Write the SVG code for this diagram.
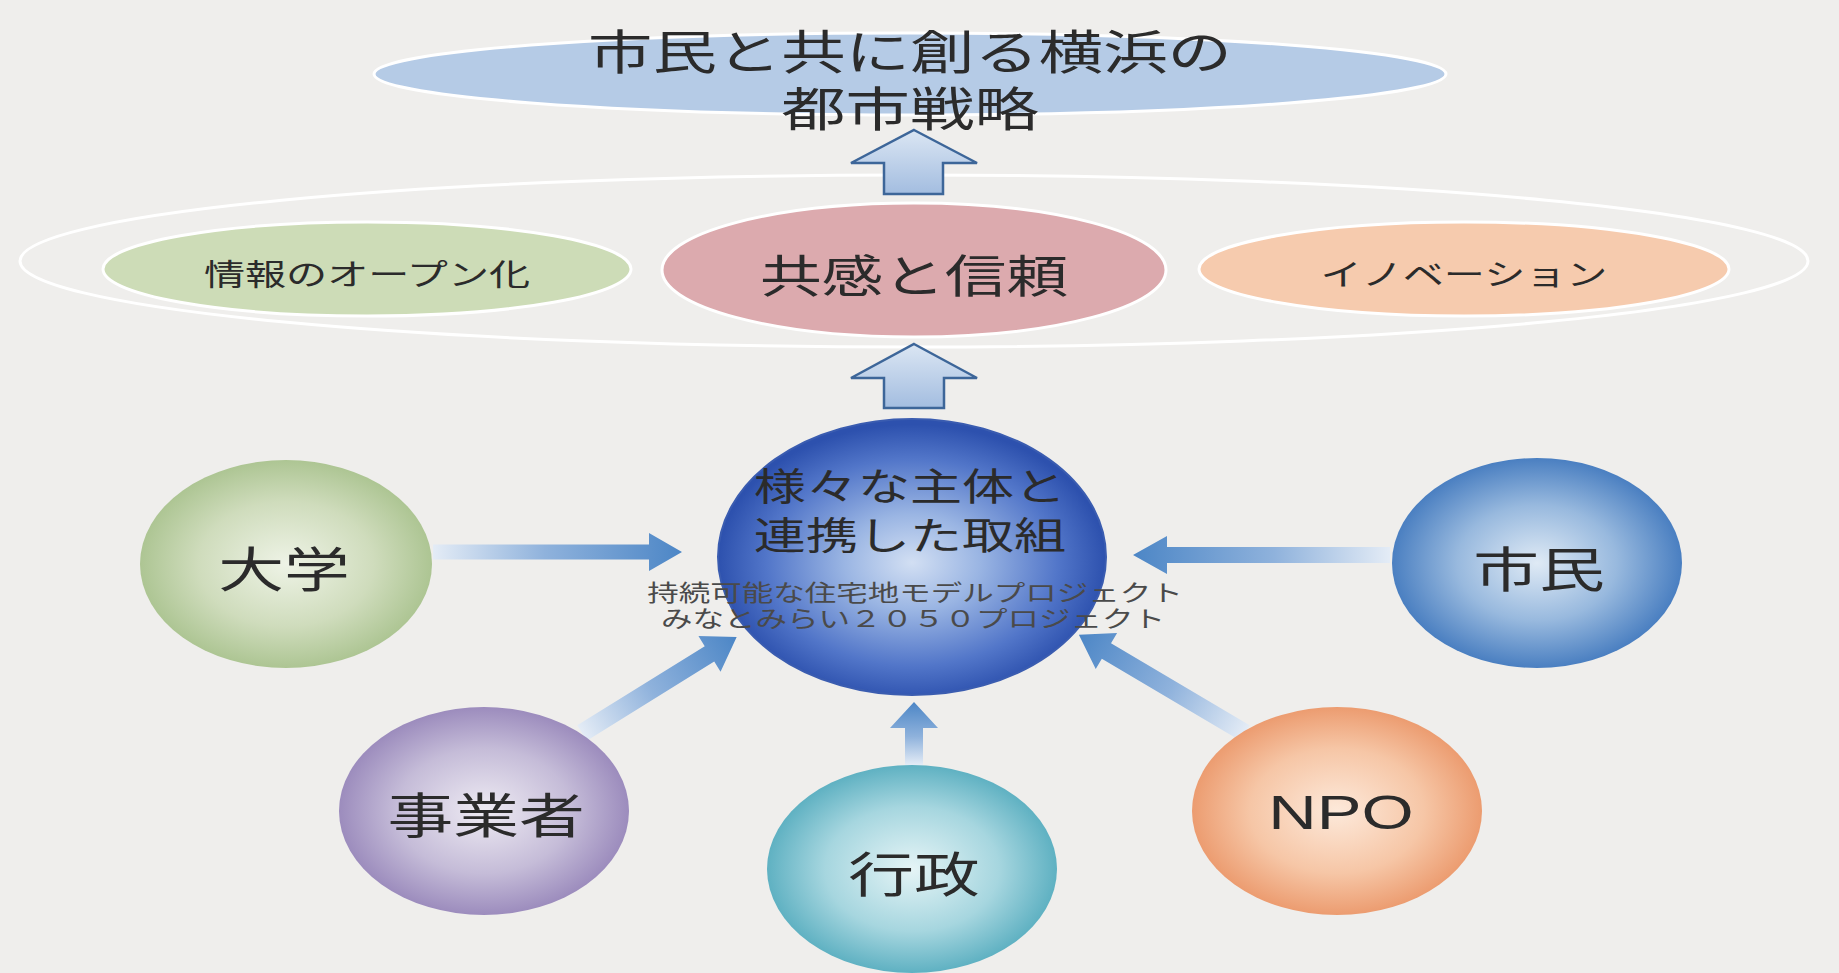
<svg xmlns="http://www.w3.org/2000/svg" width="1839" height="973" viewBox="0 0 1839 973">
<defs>
<style>
.jp{font-family:"Noto Sans CJK JP","Noto Sans",sans-serif;fill:#2b2b2b;text-anchor:middle;dominant-baseline:central}
.lat{font-family:"Liberation Sans","DejaVu Sans",sans-serif;fill:#2b2b2b;text-anchor:middle;dominant-baseline:central}
.oval{stroke:#ffffff;stroke-width:3}
.up{fill:url(#gUp);stroke:#3d6699;stroke-width:2.5;stroke-linejoin:miter}
.conn{fill:url(#gConn)}
</style>
<linearGradient id="gUp" x1="0" y1="0" x2="0" y2="1">
<stop offset="0" stop-color="#dbe6f3"/><stop offset="1" stop-color="#a3bde0"/>
</linearGradient>
<linearGradient id="gConn" x1="0" y1="0" x2="1" y2="0">
<stop offset="0" stop-color="#e4ecf6"/><stop offset="0.45" stop-color="#8fb2dc"/><stop offset="1" stop-color="#4c86c6"/>
</linearGradient>
<radialGradient id="gCenter" cx="0.5" cy="0.52" r="0.5">
<stop offset="0" stop-color="#d2dff3"/><stop offset="0.35" stop-color="#9ab5e3"/><stop offset="0.75" stop-color="#5276c9"/><stop offset="1" stop-color="#2d51ae"/>
</radialGradient>
<radialGradient id="gDaigaku" cx="0.5" cy="0.5" r="0.5">
<stop offset="0" stop-color="#eef3e6"/><stop offset="0.6" stop-color="#cfdcbc"/><stop offset="1" stop-color="#adc593"/>
</radialGradient>
<radialGradient id="gShimin" cx="0.5" cy="0.5" r="0.5">
<stop offset="0" stop-color="#dfeaf5"/><stop offset="0.55" stop-color="#98b9de"/><stop offset="1" stop-color="#4a7fc1"/>
</radialGradient>
<radialGradient id="gJigyo" cx="0.5" cy="0.5" r="0.5">
<stop offset="0" stop-color="#eeebf3"/><stop offset="0.6" stop-color="#c5bcd8"/><stop offset="1" stop-color="#9c8cbd"/>
</radialGradient>
<radialGradient id="gGyosei" cx="0.5" cy="0.5" r="0.5">
<stop offset="0" stop-color="#e5f4f6"/><stop offset="0.6" stop-color="#a6d6df"/><stop offset="1" stop-color="#5fb1c2"/>
</radialGradient>
<radialGradient id="gNpo" cx="0.5" cy="0.5" r="0.5">
<stop offset="0" stop-color="#fde9da"/><stop offset="0.6" stop-color="#f6c6a6"/><stop offset="1" stop-color="#ec9c70"/>
</radialGradient>
</defs>
<rect x="0" y="0" width="1839" height="973" fill="#efeeec"/>

<g id="outer-ring">
<ellipse cx="914" cy="261" rx="894" ry="86" fill="none" stroke="#ffffff" stroke-width="3"/>
</g>

<g id="goal">
<ellipse class="oval" cx="910" cy="74" rx="536" ry="41" fill="#b5cbe6"/>
<text class="jp" transform="translate(910,49) scale(1.37,1)" font-size="47">市民と共に創る横浜の</text>
<text class="jp" transform="translate(910,106) scale(1.37,1)" font-size="47">都市戦略</text>
</g>

<g id="openness">
<ellipse class="oval" cx="367" cy="269" rx="264" ry="47" fill="#cddcb7"/>
<text class="jp" transform="translate(367,272) scale(1.37,1)" font-size="30">情報のオープン化</text>
</g>

<g id="trust">
<ellipse class="oval" cx="914" cy="270" rx="252" ry="67" fill="#dcaaae"/>
<text class="jp" transform="translate(914,273) scale(1.37,1)" font-size="45">共感と信頼</text>
</g>

<g id="innovation">
<ellipse class="oval" cx="1464" cy="269" rx="265" ry="47" fill="#f6cbae"/>
<text class="jp" transform="translate(1464,272) scale(1.37,1)" font-size="30">イノベーション</text>
</g>

<g id="up-arrows">
<polygon class="up" points="914,130 977,163 943,163 943,194 884,194 884,163 851,163"/>
<polygon class="up" points="914,344 977,378 944,378 944,408 884,408 884,378 851,378"/>
</g>

<g id="connectors">
<polygon class="conn" transform="translate(433,552)" points="0,-7.5 216,-7.5 216,-19 249,0 216,19 216,7.5 0,7.5"/>
<polygon class="conn" transform="translate(1390,555) rotate(180)" points="0,-8 223,-8 223,-19 257,0 223,19 223,8 0,8"/>
<polygon class="conn" transform="translate(582,733) rotate(-31.8)" points="0,-9 150,-9 150,-21 182,0 150,21 150,9 0,9"/>
<polygon class="conn" transform="translate(1245,733) rotate(-149.4)" points="0,-9 161,-9 161,-21 193,0 161,21 161,9 0,9"/>
<polygon class="conn" transform="translate(914,765) rotate(-90)" points="0,-9 37,-9 37,-24 63,0 37,24 37,9 0,9"/>
</g>

<g id="center">
<ellipse cx="912" cy="557" rx="194" ry="138" fill="url(#gCenter)" stroke="#3a5cb0" stroke-width="2"/>
<text class="jp" transform="translate(910,483) scale(1.37,1)" font-size="38">様々な主体と</text>
<text class="jp" transform="translate(910,532) scale(1.37,1)" font-size="38">連携した取組</text>
<text class="jp" transform="translate(915,591) scale(1.37,1)" font-size="23" style="fill:#4a4a4a">持続可能な住宅地モデルプロジェクト</text>
<text class="jp" transform="translate(913,617) scale(1.37,1)" font-size="23" style="fill:#4a4a4a">みなとみらい２０５０プロジェクト</text>
</g>

<g id="daigaku">
<ellipse cx="286" cy="564" rx="146" ry="104" fill="url(#gDaigaku)"/>
<text class="jp" transform="translate(284,566) scale(1.37,1)" font-size="48">大学</text>
</g>

<g id="shimin">
<ellipse cx="1537" cy="563" rx="145" ry="105" fill="url(#gShimin)"/>
<text class="jp" transform="translate(1539,566) scale(1.37,1)" font-size="48">市民</text>
</g>

<g id="jigyosha">
<ellipse cx="484" cy="811" rx="145" ry="104" fill="url(#gJigyo)"/>
<text class="jp" transform="translate(486,812) scale(1.37,1)" font-size="48">事業者</text>
</g>

<g id="gyosei">
<ellipse cx="912" cy="869" rx="145" ry="104" fill="url(#gGyosei)"/>
<text class="jp" transform="translate(914,871) scale(1.37,1)" font-size="48">行政</text>
</g>

<g id="npo">
<ellipse cx="1337" cy="811" rx="145" ry="104" fill="url(#gNpo)"/>
<text class="lat" transform="translate(1341,812) scale(1.37,1)" font-size="49">NPO</text>
</g>
</svg>
